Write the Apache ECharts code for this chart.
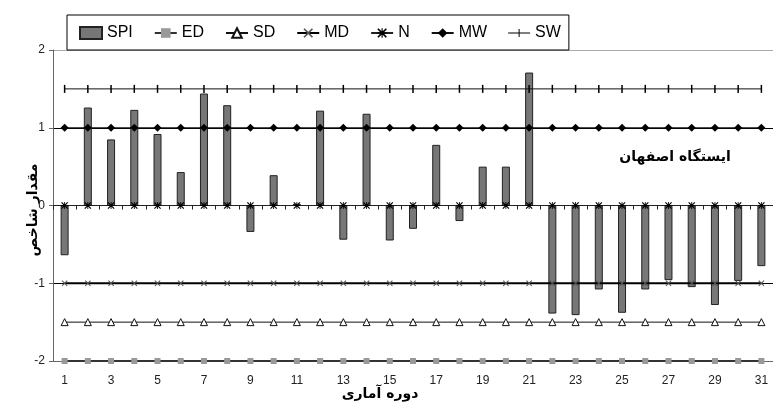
<!DOCTYPE html>
<html>
<head>
<meta charset="utf-8">
<script src="https://cdn.jsdelivr.net/npm/echarts@6/dist/echarts.min.js"></script>
<style>html,body{margin:0;padding:0;background:#fff}#c{width:773px;height:414px}</style>
</head>
<body>
<div id="c"></div>
<script>
var categories = ['1','2','3','4','5','6','7','8','9','10','11','12','13','14','15','16','17','18','19','20','21','22','23','24','25','26','27','28','29','30','31'];
var yTicks = [-2, -1, 0, 1, 2];
var spi = [-0.64, 1.26, 0.85, 1.23, 0.92, 0.43, 1.44, 1.29, -0.34, 0.39, 0.02, 1.22, -0.44, 1.18, -0.45, -0.30, 0.78, -0.20, 0.50, 0.50, 1.71, -1.39, -1.41, -1.08, -1.38, -1.08, -0.96, -1.05, -1.28, -0.97, -0.78];
var ed = [-2,-2,-2,-2,-2,-2,-2,-2,-2,-2,-2,-2,-2,-2,-2,-2,-2,-2,-2,-2,-2,-2,-2,-2,-2,-2,-2,-2,-2,-2,-2];
var sd = [-1.5,-1.5,-1.5,-1.5,-1.5,-1.5,-1.5,-1.5,-1.5,-1.5,-1.5,-1.5,-1.5,-1.5,-1.5,-1.5,-1.5,-1.5,-1.5,-1.5,-1.5,-1.5,-1.5,-1.5,-1.5,-1.5,-1.5,-1.5,-1.5,-1.5,-1.5];
var md = [-1,-1,-1,-1,-1,-1,-1,-1,-1,-1,-1,-1,-1,-1,-1,-1,-1,-1,-1,-1,-1,-1,-1,-1,-1,-1,-1,-1,-1,-1,-1];
var nn = [0,0,0,0,0,0,0,0,0,0,0,0,0,0,0,0,0,0,0,0,0,0,0,0,0,0,0,0,0,0,0];
var mw = [1,1,1,1,1,1,1,1,1,1,1,1,1,1,1,1,1,1,1,1,1,1,1,1,1,1,1,1,1,1,1];
var sw = [1.5,1.5,1.5,1.5,1.5,1.5,1.5,1.5,1.5,1.5,1.5,1.5,1.5,1.5,1.5,1.5,1.5,1.5,1.5,1.5,1.5,1.5,1.5,1.5,1.5,1.5,1.5,1.5,1.5,1.5,1.5];
var yAxisTitle = 'مقدار شاخص';
var xAxisTitle = 'دوره آماری';
var stationLabel = 'ایستگاه اصفهان';

var xPath = 'path://M0,1.2L1.2,0L5,3.8L8.8,0L10,1.2L6.2,5L10,8.8L8.8,10L5,6.2L1.2,10L0,8.8L3.8,5Z';
var starPath = 'path://M0,1.2L1.2,0L4.4,3.2L4.4,0L5.6,0L5.6,3.2L8.8,0L10,1.2L6.8,4.4L10,4.4L10,5.6L6.8,5.6L10,8.8L8.8,10L5.6,6.8L5.6,10L4.4,10L4.4,6.8L1.2,10L0,8.8L3.2,5.6L0,5.6L0,4.4L3.2,4.4Z';
var barPath = 'path://M0,0L2,0L2,10L0,10Z';
var swIcon = 'path://M0,5.5L10.5,5.5L10.5,2L11.5,2L11.5,5.5L22,5.5L22,6.5L11.5,6.5L11.5,10L10.5,10L10.5,6.5L0,6.5Z';

var chart = echarts.init(document.getElementById('c'));
var lineCommon = {type: 'line', xAxisIndex: 0, yAxisIndex: 0, showSymbol: true, animation: false, silent: true};
chart.setOption({
  backgroundColor: '#ffffff',
  animation: false,
  grid: {left: 53, right: -1, top: 50, bottom: 53, containLabel: false},
  legend: {
    left: 67, top: 15,
    orient: 'horizontal',
    itemWidth: 22, itemHeight: 12, itemGap: 21,
    padding: [10, 8, 9, 12],
    borderColor: '#000', borderWidth: 1, backgroundColor: '#fff',
    textStyle: {fontFamily: 'Liberation Sans', fontSize: 16, color: '#000'},
    data: [{name: 'SPI', icon: 'rect'}, 'ED', 'SD', 'MD', 'N', 'MW', {name: 'SW', icon: swIcon}]
  },
  xAxis: [{
    type: 'category', data: categories, boundaryGap: true,
    axisLine: {show: true, onZero: true, lineStyle: {color: '#222', width: 1}},
    axisTick: {show: true, length: 4, alignWithLabel: false, lineStyle: {color: '#222'}},
    axisLabel: {show: false},
    splitLine: {show: false}
  }, {
    type: 'category', data: categories, boundaryGap: true, position: 'bottom',
    axisLine: {show: false, onZero: false},
    axisTick: {show: false},
    axisLabel: {show: true, interval: 1, margin: 14, color: '#222', fontFamily: 'Liberation Sans', fontSize: 12},
    splitLine: {show: false}
  }],
  yAxis: {
    type: 'value', min: yTicks[0], max: yTicks[yTicks.length - 1], interval: 1,
    axisLine: {show: true, lineStyle: {color: '#666', width: 1}},
    axisTick: {show: true, length: 4, lineStyle: {color: '#666'}},
    axisLabel: {margin: 8, color: '#222', fontFamily: 'Liberation Sans', fontSize: 12},
    splitLine: {show: true, lineStyle: {color: ['#666', '#000', '#222', '#000', '#aaa'], width: 1}}
  },
  graphic: [
    {type: 'text', x: 33, y: 210, rotation: Math.PI / 2,
     style: {text: yAxisTitle, font: 'bold 14px "DejaVu Sans"', fill: '#000', textAlign: 'center', textVerticalAlign: 'middle'}},
    {type: 'text', x: 380, y: 394,
     style: {text: xAxisTitle, font: 'bold 14px "DejaVu Sans"', fill: '#000', textAlign: 'center', textVerticalAlign: 'middle'}},
    {type: 'text', x: 675, y: 157,
     style: {text: stationLabel, font: 'bold 14px "DejaVu Sans"', fill: '#000', textAlign: 'center', textVerticalAlign: 'middle'}}
  ],
  series: [
    {name: 'SPI', type: 'bar', data: spi, barWidth: 8, animation: false,
     itemStyle: {color: '#777777', borderColor: '#222', borderWidth: 1}},
    Object.assign({}, lineCommon, {name: 'ED', data: ed, symbol: 'rect', symbolSize: 6,
     lineStyle: {color: '#333', width: 2}, itemStyle: {color: '#999', borderWidth: 0}}),
    Object.assign({}, lineCommon, {name: 'SD', data: sd, symbol: 'triangle', symbolSize: 7,
     lineStyle: {color: '#111', width: 1}, itemStyle: {color: '#fff', borderColor: '#111', borderWidth: 1}}),
    Object.assign({}, lineCommon, {name: 'MD', data: md, symbol: xPath, symbolSize: 6,
     lineStyle: {color: '#000', width: 2}, itemStyle: {color: '#555', borderWidth: 0}}),
    Object.assign({}, lineCommon, {name: 'N', data: nn, symbol: starPath, symbolSize: 7,
     lineStyle: {color: '#222', width: 1}, itemStyle: {color: '#000', borderWidth: 0}}),
    Object.assign({}, lineCommon, {name: 'MW', data: mw, symbol: 'diamond', symbolSize: 8,
     lineStyle: {color: '#111', width: 1}, itemStyle: {color: '#000', borderWidth: 0}}),
    Object.assign({}, lineCommon, {name: 'SW', data: sw, symbol: barPath, symbolSize: [1.5, 8],
     lineStyle: {color: '#111', width: 1}, itemStyle: {color: '#000', borderWidth: 0}})
  ]
});
</script>
</body>
</html>
